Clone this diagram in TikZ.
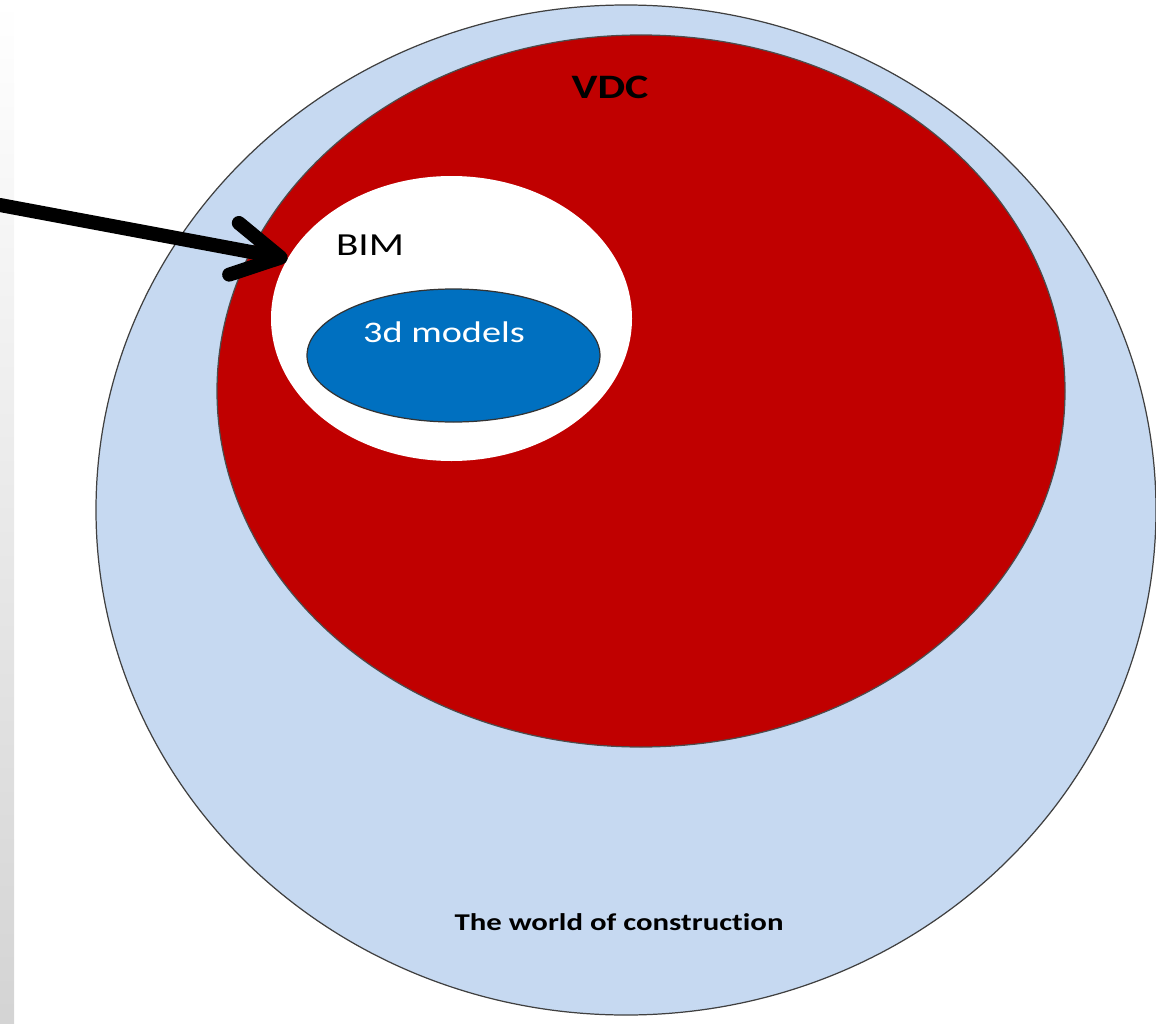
\documentclass[tikz,border=0pt]{standalone}
\usepackage{fontspec}
\setmainfont{Carlito}[Ligatures=NoCommon]
\usetikzlibrary{shapes.geometric,arrows.meta}
\definecolor{worldblue}{HTML}{C6D9F1}
\definecolor{vdcred}{HTML}{C00000}
\definecolor{modelblue}{HTML}{0070C0}
\newcommand{\stretchtext}[1]{\scalebox{1.28}[1]{#1}}
\begin{document}
\begin{tikzpicture}[
      x=0.02cm, y=-0.02cm,
      area/.style={ellipse, inner sep=0pt, outer sep=0pt, line width=.7pt},
      tag/.style={inner sep=0pt, text=black},
      pointer/.style={draw=black, line width=8pt, line cap=round,
                      -{Straight Barb[length=9.5mm, width=10.5mm, round]}}
    ]
    \useasboundingbox (0,0) rectangle (1156,1024);
    % screen edge
    \shade[top color=white, bottom color=black!17] (0,0) rectangle (14,1024);

    % nested areas
    \node[area, draw=black!75, fill=worldblue, minimum width=1060*0.02cm,
          minimum height=1010*0.02cm] (world) at (626,510) {};
    \node[area, draw=black!70, fill=vdcred, minimum width=848*0.02cm,
          minimum height=712*0.02cm] (vdc) at (641,391) {};
    \node[area, fill=white, minimum width=361*0.02cm,
          minimum height=285*0.02cm] (bim) at (451.5,318.5) {};
    \node[area, draw=black!80, fill=modelblue, minimum width=293*0.02cm,
          minimum height=133*0.02cm] (models) at (453.5,355.5) {};

    % labels
    \node[tag] (vdclabel) at (610,87)
      {\fontsize{19.5}{20}\selectfont\bfseries\stretchtext{VDC}};
    \node[tag] (bimlabel) at (370,245)
      {\fontsize{18.3}{19}\selectfont\stretchtext{BIM}};
    \node[tag, text=white] (modelslabel) at (444,332)
      {\fontsize{17}{18}\selectfont\stretchtext{3d models}};
    \node[tag] (worldlabel) at (619,922)
      {\fontsize{13.7}{15}\selectfont\bfseries\stretchtext{The world of construction}};

    % pointer to BIM
    \coordinate (from) at (0,205);
    \draw[pointer] (from) -- (bim.160);
  \end{tikzpicture}
\end{document}
